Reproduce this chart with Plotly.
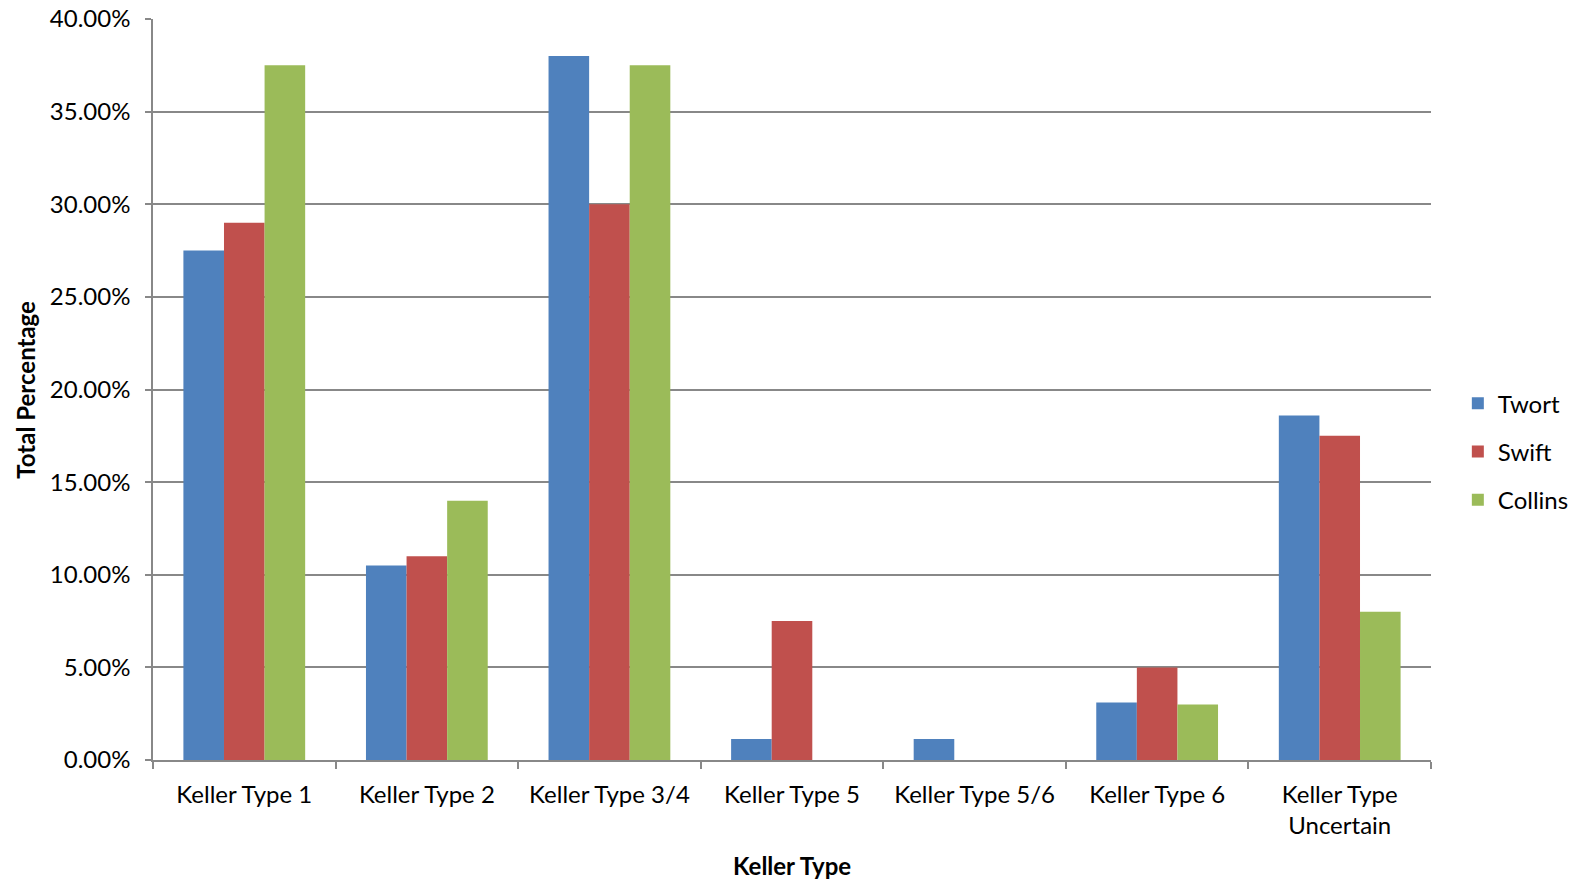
import plotly.graph_objects as go

# Keller type categories and share of items per source (percent)
categories = ["Keller Type 1", "Keller Type 2", "Keller Type 3/4", "Keller Type 5",
              "Keller Type 5/6", "Keller Type 6", "Keller Type<br>Uncertain"]
twort = [27.5, 10.5, 38.0, 1.14, 1.14, 3.1, 18.6]
swift = [29.0, 11.0, 30.0, 7.5, 0.0, 5.0, 17.5]
collins = [37.5, 14.0, 37.5, 0.0, 0.0, 3.0, 8.0]

y_ticks = [0, 5, 10, 15, 20, 25, 30, 35, 40]
y_tick_text = [f"{v:.2f}%" for v in y_ticks]

series = [("Twort", twort, "#4F81BD"),
          ("Swift", swift, "#C0504D"),
          ("Collins", collins, "#9BBB59")]

FONT = "Lato, 'Open Sans', sans-serif"

fig = go.Figure()
for name, vals, color in series:
    fig.add_trace(go.Bar(
        x=categories, y=vals, name=name, legendgroup=name,
        marker=dict(color=color, line=dict(width=0)),
    ))

fig.update_layout(
    width=1576, height=885,
    paper_bgcolor="white", plot_bgcolor="white",
    margin=dict(l=153, r=145, t=19, b=125, autoexpand=False),
    barmode="group", bargap=0.333, bargroupgap=0,
    font=dict(family=FONT, size=24, color="#000000"),
    showlegend=True,
    legend=dict(x=1.021, xanchor="left", y=0.416, yanchor="middle",
                font=dict(size=24), tracegroupgap=14,
                bgcolor="rgba(0,0,0,0)"),
)

fig.update_yaxes(
    range=[0, 40], tickvals=y_ticks, ticktext=y_tick_text,
    showgrid=True, gridcolor="#888888", gridwidth=1.5,
    showline=True, linecolor="#888888", linewidth=1.5,
    ticks="outside", ticklen=6, tickcolor="#888888", tickwidth=1.5,
    tickfont=dict(size=24), zeroline=False, ticklabelstandoff=10,
)
fig.update_xaxes(
    tickson="boundaries", ticks="outside", ticklen=7,
    tickcolor="#888888", tickwidth=1.5,
    showline=True, linecolor="#888888", linewidth=1.5,
    tickfont=dict(size=24), showgrid=False, ticklabelstandoff=12,
)

fig.add_annotation(text="<b>Total Percentage</b>", xref="paper", yref="paper",
                   x=-0.1, y=0.5, xanchor="center", yanchor="middle",
                   textangle=-90, showarrow=False,
                   font=dict(size=24, family=FONT))
fig.add_annotation(text="<b>Keller Type</b>", xref="paper", yref="paper",
                   x=0.5, y=-0.142, xanchor="center", yanchor="middle",
                   showarrow=False, font=dict(size=24, family=FONT))

fig.write_html("out.html")
